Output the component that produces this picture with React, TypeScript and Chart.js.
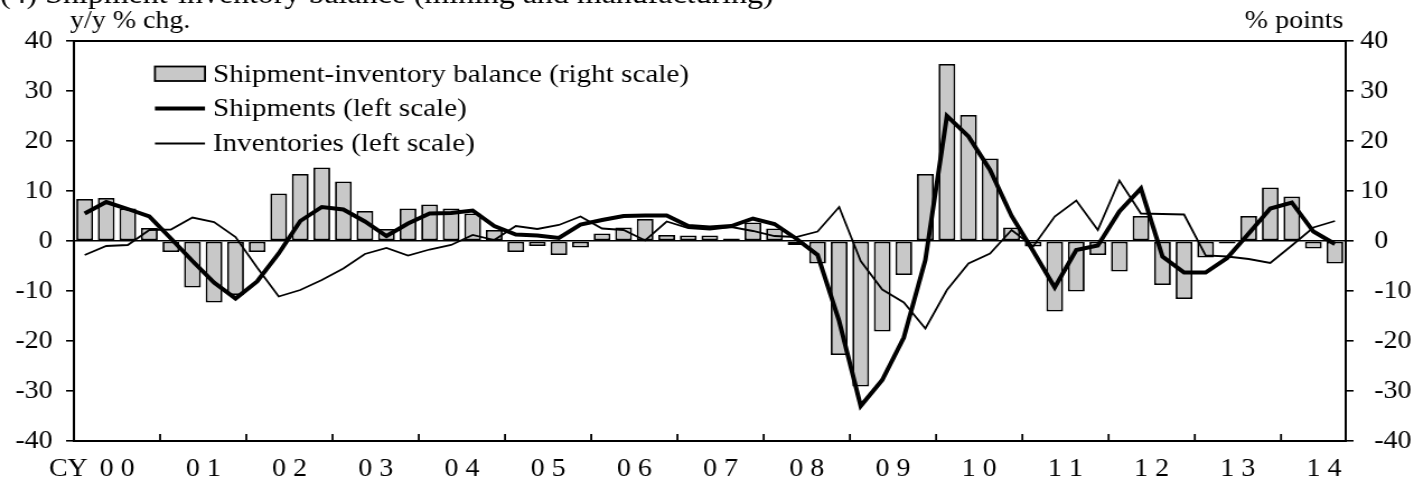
import React, { useEffect, useRef } from "react";
import { Chart, registerables } from "chart.js";

Chart.register(...registerables);

// ---- data -------------------------------------------------------------
const quarters = [
  "2000Q1", "2000Q2", "2000Q3", "2000Q4",
  "2001Q1", "2001Q2", "2001Q3", "2001Q4",
  "2002Q1", "2002Q2", "2002Q3", "2002Q4",
  "2003Q1", "2003Q2", "2003Q3", "2003Q4",
  "2004Q1", "2004Q2", "2004Q3", "2004Q4",
  "2005Q1", "2005Q2", "2005Q3", "2005Q4",
  "2006Q1", "2006Q2", "2006Q3", "2006Q4",
  "2007Q1", "2007Q2", "2007Q3", "2007Q4",
  "2008Q1", "2008Q2", "2008Q3", "2008Q4",
  "2009Q1", "2009Q2", "2009Q3", "2009Q4",
  "2010Q1", "2010Q2", "2010Q3", "2010Q4",
  "2011Q1", "2011Q2", "2011Q3", "2011Q4",
  "2012Q1", "2012Q2", "2012Q3", "2012Q4",
  "2013Q1", "2013Q2", "2013Q3", "2013Q4",
  "2014Q1", "2014Q2", "2014Q3",
];

const yearLabels = [
  "0 0", "0 1", "0 2", "0 3", "0 4", "0 5", "0 6", "0 7",
  "0 8", "0 9", "1 0", "1 1", "1 2", "1 3", "1 4",
];

// Shipment-inventory balance (right scale), % points
const balance = [
  8.4, 8.6, 6.5, 2.6,
  -2.2, -9.3, -12.3, -10.8,
  -2.2, 9.5, 13.4, 14.7,
  11.9, 6.0, 2.4, 6.5,
  7.3, 6.5, 5.5, 2.2,
  -2.2, -1.0, -2.8, -1.3,
  1.5, 2.7, 4.4, 1.2,
  1.1, 1.1, 0.5, 3.7,
  2.5, -0.8, -4.5, -22.8,
  -29.1, -18.1, -6.8, 13.4,
  35.4, 25.2, 16.5, 2.7,
  -1.1, -14.1, -10.1, -2.8,
  -6.1, 5.0, -8.8, -11.6,
  -3.3, -0.5, 5.0, 10.7,
  8.9, -1.5, -4.5,
];

// Shipments (left scale), y/y % chg.
const shipments = [
  5.5, 7.8, 6.4, 4.9,
  0.5, -4.0, -8.3, -11.5,
  -8.1, -2.5, 4.0, 6.8,
  6.3, 3.9, 1.0, 3.5,
  5.5, 5.6, 6.1, 3.0,
  1.3, 1.1, 0.6, 3.3,
  4.2, 5.0, 5.1, 5.1,
  3.0, 2.7, 3.0, 4.5,
  3.4, 0.5, -2.8, -16.0,
  -33.0, -27.8, -19.3, -3.8,
  25.0, 20.9, 14.2, 5.0,
  -2.0, -9.3, -1.8, -0.9,
  5.9, 10.5, -3.1, -6.3,
  -6.3, -3.4, 1.5, 6.5,
  7.7, 1.9, -0.6,
];

// Inventories (left scale), y/y % chg.
const inventories = [
  -2.8, -1.0, -0.8, 2.2,
  2.3, 4.7, 3.8, 0.8,
  -5.3, -11.1, -9.8, -7.8,
  -5.5, -2.6, -1.4, -2.9,
  -1.7, -0.8, 1.2, 0.2,
  3.0, 2.4, 3.2, 4.9,
  2.5, 2.2, 0.1, 3.9,
  2.6, 2.3, 2.8, 2.0,
  1.0, 0.8, 1.9, 6.8,
  -4.0, -9.7, -12.3, -17.5,
  -9.8, -4.5, -2.5, 2.2,
  -1.1, 4.9, 8.1, 2.2,
  12.1, 5.5, 5.4, 5.3,
  -2.9, -3.1, -3.6, -4.4,
  -0.9, 2.7, 4.0,
];

const axisMin = -40;
const axisMax = 40;
const axisStep = 10;

const titleText = "(4) Shipment-inventory balance (mining and manufacturing)";
const leftUnit = "y/y % chg.";
const rightUnit = "% points";
const legendLabels = [
  "Shipment-inventory balance (right scale)",
  "Shipments (left scale)",
  "Inventories (left scale)",
];

// ---- layout (canvas is drawn narrower and stretched horizontally) -----
const OUT_W = 1414;
const OUT_H = 489;
const CANVAS_W = 1263;
const FONT = "'Liberation Serif', 'Times New Roman', Times, serif";
const TICK_SIZE = 25;
const LEGEND_SIZE = 26;
const TITLE_SIZE = 28.5;
const BAR_FILL = "#c8c8c8";
const THICK = 4;
const THIN = 1.8;
const LABEL_OFFSET = 9.63;

const decorPlugin = {
  id: "decor",
  afterDraw(chart: any) {
    const ctx = chart.ctx as CanvasRenderingContext2D;
    const ca = chart.chartArea;
    const xs = chart.scales.x;
    ctx.save();
    ctx.strokeStyle = "#000";
    ctx.fillStyle = "#000";
    ctx.lineCap = "butt";

    // top frame line
    ctx.lineWidth = 2;
    ctx.beginPath();
    ctx.moveTo(ca.left - 1, ca.top);
    ctx.lineTo(ca.right + 1, ca.top);
    ctx.stroke();

    // year ticks (inside, at year boundaries)
    ctx.lineWidth = 1.8;
    for (let k = 1; k < yearLabels.length; k++) {
      const a = xs.getPixelForValue(4 * k - 1);
      const b = xs.getPixelForValue(4 * k);
      const x = (a + b) / 2;
      ctx.beginPath();
      ctx.moveTo(x, ca.bottom);
      ctx.lineTo(x, ca.bottom - 7);
      ctx.stroke();
    }

    // "CY" prefix before first year label
    const items = xs.getLabelItems ? xs.getLabelItems() : [];
    const first = items.find((it: any) => it.label === yearLabels[0]);
    ctx.font = `${TICK_SIZE}px ${FONT}`;
    if (first) {
      const w = ctx.measureText(first.label).width;
      const [tx, ty] = first.options.translation;
      ctx.textAlign = "right";
      ctx.textBaseline = first.options.textBaseline;
      ctx.fillText("CY", tx - w / 2 - 10.5, ty + first.textOffset);
    }

    // unit labels
    ctx.textBaseline = "alphabetic";
    ctx.textAlign = "left";
    ctx.fillText(leftUnit, 62.5, 28);
    ctx.textAlign = "right";
    ctx.fillText(rightUnit, ca.right - 2, 28);

    // title (partly cut off by the top edge, as in the source)
    ctx.textAlign = "left";
    ctx.font = `${TITLE_SIZE}px ${FONT}`;
    ctx.fillText(titleText, 0, 3);

    // legend
    const lx0 = 138.4;
    const lx1 = 183.1;
    const tx = 190.2;
    const rows = [74, 108.5, 143.5];
    ctx.fillStyle = BAR_FILL;
    ctx.fillRect(lx0, 66.5, lx1 - lx0, 14.5);
    ctx.lineWidth = THIN;
    ctx.strokeStyle = "#000";
    ctx.strokeRect(lx0, 66.5, lx1 - lx0, 14.5);
    ctx.lineWidth = THICK;
    ctx.beginPath();
    ctx.moveTo(lx0, rows[1]);
    ctx.lineTo(lx1, rows[1]);
    ctx.stroke();
    ctx.lineWidth = THIN;
    ctx.beginPath();
    ctx.moveTo(lx0, rows[2]);
    ctx.lineTo(lx1, rows[2]);
    ctx.stroke();
    ctx.fillStyle = "#000";
    ctx.font = `${LEGEND_SIZE}px ${FONT}`;
    ctx.textAlign = "left";
    ctx.textBaseline = "middle";
    legendLabels.forEach((t, i) => ctx.fillText(t, tx, rows[i] + 1));

    ctx.restore();
  },
};

export default function App() {
  const ref = useRef<HTMLCanvasElement>(null);

  useEffect(() => {
    const canvas = ref.current;
    if (!canvas) return;
    const tickFont = { family: FONT, size: TICK_SIZE };
    const chart = new Chart(canvas, {
      type: "bar",
      data: {
        labels: quarters,
        datasets: [
          {
            type: "line",
            label: legendLabels[1],
            data: shipments,
            yAxisID: "y",
            borderColor: "#000",
            borderWidth: THICK,
            pointRadius: 0,
            tension: 0,
            fill: false,
            order: 1,
          } as any,
          {
            type: "line",
            label: legendLabels[2],
            data: inventories,
            yAxisID: "y",
            borderColor: "#000",
            borderWidth: THIN,
            pointRadius: 0,
            tension: 0,
            fill: false,
            order: 2,
          } as any,
          {
            type: "bar",
            label: legendLabels[0],
            data: balance,
            yAxisID: "y2",
            backgroundColor: BAR_FILL,
            borderColor: "#000",
            borderWidth: THIN,
            borderSkipped: false,
            categoryPercentage: 1,
            barPercentage: 0.78,
            order: 3,
          } as any,
        ],
      },
      options: {
        responsive: false,
        animation: false,
        devicePixelRatio: 1,
        layout: { padding: { top: 41, left: 0, right: 0, bottom: 0 } },
        plugins: {
          legend: { display: false },
          tooltip: { enabled: false },
          title: { display: false },
        },
        scales: {
          x: {
            type: "category",
            offset: true,
            grid: { display: false, drawTicks: false },
            border: { display: true, color: "#000", width: 2 },
            ticks: {
              autoSkip: false,
              maxRotation: 0,
              minRotation: 0,
              padding: 13,
              labelOffset: LABEL_OFFSET,
              color: "#000",
              font: tickFont,
              callback: (_v: any, i: number) =>
                i % 4 === 1 ? yearLabels[(i - 1) / 4] : "",
            },
            afterFit: (s: any) => {
              s.height = 48;
            },
          },
          y: {
            position: "left",
            min: axisMin,
            max: axisMax,
            ticks: {
              stepSize: axisStep,
              padding: 12,
              color: "#000",
              font: tickFont,
            },
            grid: {
              drawOnChartArea: true,
              drawTicks: true,
              tickLength: 7,
              lineWidth: 1.6,
              tickWidth: 1.6,
              tickColor: "#000",
              color: (c: any) =>
                c.tick && c.tick.value === 0 ? "#000" : "rgba(0,0,0,0)",
            },
            border: { display: true, color: "#000", width: 2 },
            afterFit: (s: any) => {
              s.width = 66;
            },
          },
          y2: {
            position: "right",
            min: axisMin,
            max: axisMax,
            ticks: {
              stepSize: axisStep,
              padding: 6,
              color: "#000",
              font: tickFont,
              callback: (v: any) => (Number(v) <= 0 ? "  " + v : String(v)),
            },
            grid: {
              drawOnChartArea: false,
              drawTicks: true,
              tickLength: 7,
              lineWidth: 1.6,
              color: "#000",
            },
            border: { display: true, color: "#000", width: 2 },
            afterFit: (s: any) => {
              s.width = 61;
            },
          },
        },
      } as any,
      plugins: [decorPlugin],
    });
    return () => chart.destroy();
  }, []);

  return (
    <div
      style={{
        position: "fixed",
        left: 0,
        top: 0,
        width: OUT_W,
        height: OUT_H,
        background: "#fff",
      }}
    >
      <canvas
        ref={ref}
        width={CANVAS_W}
        height={OUT_H}
        style={{ width: `${OUT_W}px`, height: `${OUT_H}px`, display: "block" }}
      />
    </div>
  );
}
